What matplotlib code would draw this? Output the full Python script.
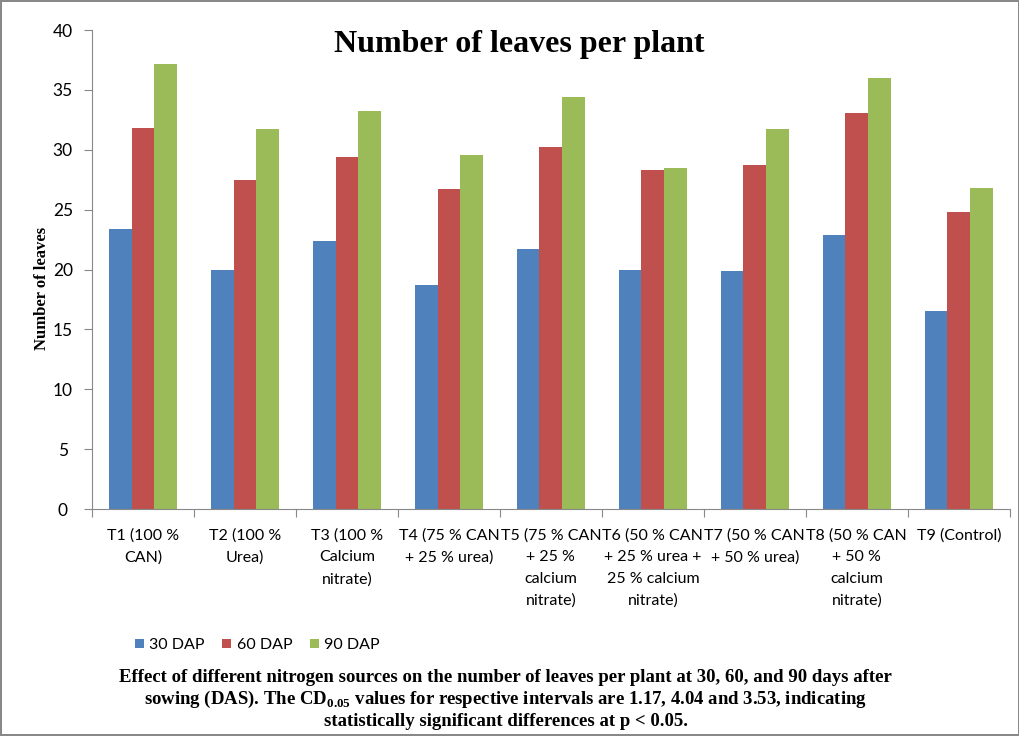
import numpy as np
import matplotlib.pyplot as plt

plt.rcParams['mathtext.fontset'] = 'custom'
plt.rcParams['mathtext.bf'] = 'Liberation Serif:bold'
plt.rcParams['mathtext.rm'] = 'Liberation Serif'

treatments = ['T1 (100 %\nCAN)', 'T2 (100 %\nUrea)', 'T3 (100 %\nCalcium\nnitrate)',
              'T4 (75 % CAN\n+ 25 % urea)', 'T5 (75 % CAN\n+ 25 %\ncalcium\nnitrate)',
              'T6 (50 % CAN\n+ 25 % urea +\n25 % calcium\nnitrate)', 'T7 (50 % CAN\n+ 50 % urea)',
              'T8 (50 % CAN\n+ 50 %\ncalcium\nnitrate)', 'T9 (Control)']
dap30 = [23.4, 20.0, 22.4, 18.7, 21.7, 20.0, 19.9, 22.9, 16.5]
dap60 = [31.8, 27.5, 29.4, 26.7, 30.2, 28.3, 28.7, 33.1, 24.8]
dap90 = [37.2, 31.7, 33.2, 29.6, 34.4, 28.5, 31.7, 36.0, 26.8]
series = ['30 DAP', '60 DAP', '90 DAP']
colors = ['#4F81BD', '#C0504D', '#9BBB59']

sans = ['Lato', 'DejaVu Sans']
serif = ['Liberation Serif', 'DejaVu Serif']

fig = plt.figure(figsize=(10.2, 7.36), dpi=100)
ax = fig.add_axes([0.0902, 0.3084, 0.8998, 0.6508])

x = np.arange(len(treatments))
w = 0.224
for i, (vals, name, c) in enumerate(zip([dap30, dap60, dap90], series, colors)):
    ax.bar(x + (i - 1) * w, vals, width=w, color=c, label=name, zorder=2)

ax.set_xlim(-0.5, len(treatments) - 0.5)
ax.set_ylim(0, 40)
ax.set_yticks(range(0, 41, 5))
ax.set_yticklabels([str(v) for v in range(0, 41, 5)], family=sans, fontsize=12.5)
ax.set_xticks(np.arange(len(treatments) + 1) - 0.5)
ax.set_xticklabels([])
ax.set_xticks(x, minor=True)
ax.set_xticklabels(treatments, minor=True, family=sans, fontsize=11.5, linespacing=1.68, va='top')
ax.tick_params(axis='x', which='minor', length=0, pad=14)
ax.tick_params(axis='x', which='major', length=6, color='#888888')
ax.tick_params(axis='y', length=6, color='#888888', pad=15)
for t in ax.get_yticklabels():
    t.set_horizontalalignment('center')
for s in ['top', 'right']:
    ax.spines[s].set_visible(False)
for s in ['left', 'bottom']:
    ax.spines[s].set_color('#888888')

ax.set_ylabel('Number of leaves', family=serif, fontweight='bold', fontsize=12)
ax.yaxis.set_label_coords(-0.046, 0.461)

fig.text(0.509, 0.94, 'Number of leaves per plant', family=serif, fontweight='bold',
         fontsize=23, ha='center', va='center')

fig.legend(loc='center left', bbox_to_anchor=(0.118, 0.1236), ncol=3, frameon=False,
           prop={'family': sans, 'size': 11.5}, handlelength=0.55, handleheight=0.55,
           handletextpad=0.35, columnspacing=1.1)

caption = ('Effect of different nitrogen sources on the number of leaves per plant at 30, 60, and 90 days after\n'
           r'sowing (DAS). The CD$_{\mathbf{0.05}}$ values for respective intervals are 1.17, 4.04 and 3.53, indicating' '\n'
           'statistically significant differences at p < 0.05.')
fig.text(0.496, 0.05, caption, family=serif, fontweight='bold', fontsize=13.5,
         ha='center', va='center', linespacing=1.2)

fig.patch.set_edgecolor('#888888')
fig.patch.set_linewidth(1.5)
fig.savefig('out.png', dpi=100, edgecolor=fig.get_edgecolor())
